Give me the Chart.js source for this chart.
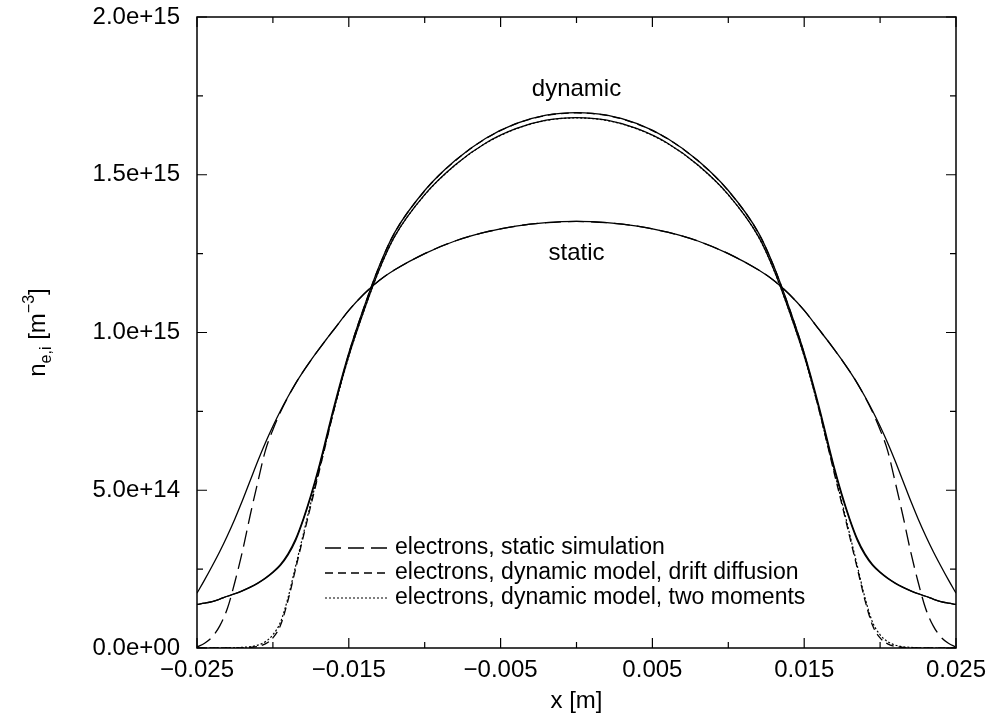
<!DOCTYPE html>
<html>
<head>
<meta charset="utf-8">
<style>
  html, body { margin: 0; padding: 0; background: #fff; }
</style>
<script src="https://cdn.jsdelivr.net/npm/chart.js@4.4.0/dist/chart.umd.min.js"></script>
</head>
<body>
<canvas id="plot" width="993" height="724"></canvas>
<script>
// x positions [m]
const xVals = [
  -0.025, -0.0245, -0.024, -0.0235, -0.023, -0.0225, -0.022, -0.0215, -0.021, -0.0205,
  -0.020, -0.0195, -0.019, -0.0185, -0.018, -0.0175, -0.017, -0.0165, -0.016, -0.015,
  -0.014, -0.013, -0.012, -0.010, -0.008, -0.006, -0.004, -0.002, 0,
  0.002, 0.004, 0.006, 0.008, 0.010, 0.012, 0.013, 0.014, 0.015, 0.016,
  0.0165, 0.017, 0.0175, 0.018, 0.0185, 0.019, 0.0195, 0.020, 0.0205, 0.021,
  0.0215, 0.022, 0.0225, 0.023, 0.0235, 0.024, 0.0245, 0.025
];

// ions, static simulation (solid)
const ionStatic = [
  1.74e14, 2.16e14, 2.60e14, 3.06e14, 3.56e14, 4.10e14, 4.68e14, 5.30e14, 5.92e14, 6.50e14,
  7.03e14, 7.52e14, 7.97e14, 8.39e14, 8.77e14, 9.12e14, 9.45e14, 9.77e14, 1.008e15, 1.070e15,
  1.122e15, 1.165e15, 1.198e15, 1.250e15, 1.290e15, 1.318e15, 1.337e15, 1.348e15, 1.352e15,
  1.348e15, 1.337e15, 1.318e15, 1.290e15, 1.250e15, 1.198e15, 1.165e15, 1.122e15, 1.070e15, 1.008e15,
  9.77e14, 9.45e14, 9.12e14, 8.77e14, 8.39e14, 7.97e14, 7.52e14, 7.03e14, 6.50e14, 5.92e14,
  5.30e14, 4.68e14, 4.10e14, 3.56e14, 3.06e14, 2.60e14, 2.16e14, 1.74e14
];

// electrons, static simulation (long dash)
const elecStatic = [
  3e12, 1.5e13, 3.5e13, 7.0e13, 1.25e14, 2.10e14, 3.08e14, 4.20e14, 5.25e14, 6.25e14,
  6.92e14, 7.48e14, 7.96e14, 8.39e14, 8.77e14, 9.12e14, 9.45e14, 9.77e14, 1.008e15, 1.070e15,
  1.122e15, 1.165e15, 1.198e15, 1.250e15, 1.290e15, 1.318e15, 1.337e15, 1.348e15, 1.352e15,
  1.348e15, 1.337e15, 1.318e15, 1.290e15, 1.250e15, 1.198e15, 1.165e15, 1.122e15, 1.070e15, 1.008e15,
  9.77e14, 9.45e14, 9.12e14, 8.77e14, 8.39e14, 7.96e14, 7.48e14, 6.92e14, 6.25e14, 5.25e14,
  4.20e14, 3.08e14, 2.10e14, 1.25e14, 7.0e13, 3.5e13, 1.5e13, 3e12
];

// ions, dynamic model, drift diffusion (solid)
const ionDynDD = [
  1.38e14, 1.42e14, 1.47e14, 1.55e14, 1.64e14, 1.72e14, 1.82e14, 1.93e14, 2.06e14, 2.22e14,
  2.41e14, 2.65e14, 2.99e14, 3.46e14, 4.10e14, 4.85e14, 5.70e14, 6.65e14, 7.62e14, 9.35e14,
  1.080e15, 1.210e15, 1.315e15, 1.450e15, 1.545e15, 1.615e15, 1.662e15, 1.689e15, 1.697e15,
  1.689e15, 1.662e15, 1.615e15, 1.545e15, 1.450e15, 1.315e15, 1.210e15, 1.080e15, 9.35e14, 7.62e14,
  6.65e14, 5.70e14, 4.85e14, 4.10e14, 3.46e14, 2.99e14, 2.65e14, 2.41e14, 2.22e14, 2.06e14,
  1.93e14, 1.82e14, 1.72e14, 1.64e14, 1.55e14, 1.47e14, 1.42e14, 1.38e14
];

// ions, dynamic model, two moments (solid)
const ionDynTM = [
  1.38e14, 1.42e14, 1.47e14, 1.55e14, 1.64e14, 1.72e14, 1.81e14, 1.92e14, 2.05e14, 2.20e14,
  2.39e14, 2.62e14, 2.95e14, 3.41e14, 4.05e14, 4.79e14, 5.63e14, 6.57e14, 7.54e14, 9.26e14,
  1.070e15, 1.199e15, 1.303e15, 1.437e15, 1.531e15, 1.600e15, 1.646e15, 1.673e15, 1.681e15,
  1.673e15, 1.646e15, 1.600e15, 1.531e15, 1.437e15, 1.303e15, 1.199e15, 1.070e15, 9.26e14, 7.54e14,
  6.57e14, 5.63e14, 4.79e14, 4.05e14, 3.41e14, 2.95e14, 2.62e14, 2.39e14, 2.20e14, 2.05e14,
  1.92e14, 1.81e14, 1.72e14, 1.64e14, 1.55e14, 1.47e14, 1.42e14, 1.38e14
];

// electrons, dynamic model, drift diffusion (short dash)
const elecDynDD = [
  0, 0, 0, 0, 0, 0, 5e11, 2e12, 5e12, 1.3e13,
  3.2e13, 7.2e13, 1.52e14, 2.52e14, 3.52e14, 4.52e14, 5.50e14, 6.50e14, 7.50e14, 9.33e14,
  1.079e15, 1.209e15, 1.314e15, 1.449e15, 1.544e15, 1.614e15, 1.661e15, 1.688e15, 1.696e15,
  1.688e15, 1.661e15, 1.614e15, 1.544e15, 1.449e15, 1.314e15, 1.209e15, 1.079e15, 9.33e14, 7.50e14,
  6.50e14, 5.50e14, 4.52e14, 3.52e14, 2.52e14, 1.52e14, 7.2e13, 3.2e13, 1.3e13, 5e12,
  2e12, 5e11, 0, 0, 0, 0, 0, 0
];

// electrons, dynamic model, two moments (dotted)
const elecDynTM = [
  0, 0, 0, 2e11, 5e11, 1e12, 2e12, 4e12, 9e12, 2.0e13,
  4.2e13, 8.2e13, 1.60e14, 2.60e14, 3.60e14, 4.60e14, 5.55e14, 6.52e14, 7.50e14, 9.24e14,
  1.069e15, 1.198e15, 1.302e15, 1.436e15, 1.530e15, 1.599e15, 1.645e15, 1.672e15, 1.680e15,
  1.672e15, 1.645e15, 1.599e15, 1.530e15, 1.436e15, 1.302e15, 1.198e15, 1.069e15, 9.24e14, 7.50e14,
  6.52e14, 5.55e14, 4.60e14, 3.60e14, 2.60e14, 1.60e14, 8.2e13, 4.2e13, 2.0e13, 9e12,
  4e12, 2e12, 1e12, 5e11, 2e11, 0, 0, 0
];

const xTickValues = [-0.025, -0.015, -0.005, 0.005, 0.015, 0.025];
const xMinorValues = [-0.02, -0.01, 0, 0.01, 0.02];
const yTickValues = [0, 5e14, 1e15, 1.5e15, 2e15];
const yMinorValues = [2.5e14, 7.5e14, 1.25e15, 1.75e15];

const FONT = '"Liberation Sans", Arial, Helvetica, sans-serif';

function pts(ys) {
  return xVals.map((x, i) => ({ x: x, y: ys[i] }));
}

function fmtX(v) {
  return v.toFixed(3).replace('-', '\u2212');
}

function fmtY(v) {
  let s = Number(v).toExponential(1);
  return s.replace(/e([+-])(\d)$/, 'e$10$2');
}

const solid = [];
const longDash = [16, 7];
const shortDash = [8, 5];
const dotted = [2, 2];

const datasets = [
  { label: 'ions static', data: pts(ionStatic), borderDash: solid, borderWidth: 1.3 },
  { label: 'electrons, static simulation', data: pts(elecStatic), borderDash: longDash, borderWidth: 1.3 },
  { label: 'ions dynamic dd', data: pts(ionDynDD), borderDash: solid, borderWidth: 1.3 },
  { label: 'ions dynamic tm', data: pts(ionDynTM), borderDash: solid, borderWidth: 1.3 },
  { label: 'electrons, dynamic model, drift diffusion', data: pts(elecDynDD), borderDash: shortDash, borderWidth: 1.3 },
  { label: 'electrons, dynamic model, two moments', data: pts(elecDynTM), borderDash: dotted, borderWidth: 1.2 }
].map(d => Object.assign(d, {
  borderColor: '#000',
  backgroundColor: '#000',
  showLine: true,
  pointRadius: 0,
  fill: false,
  cubicInterpolationMode: 'monotone'
}));

const legendItems = [
  { text: 'electrons, static simulation', dash: longDash, width: 1.3 },
  { text: 'electrons, dynamic model, drift diffusion', dash: shortDash, width: 1.3 },
  { text: 'electrons, dynamic model, two moments', dash: dotted, width: 1.2 }
];

// frame, inward ticks, legend and labels
const decor = {
  id: 'decor',
  afterDraw(chart) {
    const { ctx, chartArea: a, scales: { x, y } } = chart;
    ctx.save();
    ctx.strokeStyle = '#000';
    ctx.lineWidth = 1.5;
    ctx.strokeRect(a.left, a.top, a.right - a.left, a.bottom - a.top);

    ctx.lineWidth = 1.2;
    ctx.beginPath();
    const xt = (v, len) => {
      const p = x.getPixelForValue(v);
      ctx.moveTo(p, a.bottom); ctx.lineTo(p, a.bottom - len);
      ctx.moveTo(p, a.top); ctx.lineTo(p, a.top + len);
    };
    const yt = (v, len) => {
      const p = y.getPixelForValue(v);
      ctx.moveTo(a.left, p); ctx.lineTo(a.left + len, p);
      ctx.moveTo(a.right, p); ctx.lineTo(a.right - len, p);
    };
    xTickValues.forEach(v => xt(v, 10));
    xMinorValues.forEach(v => xt(v, 6));
    yTickValues.forEach(v => yt(v, 10));
    yMinorValues.forEach(v => yt(v, 6));
    ctx.stroke();

    // legend
    ctx.fillStyle = '#000';
    ctx.font = '23px ' + FONT;
    ctx.textBaseline = 'middle';
    ctx.textAlign = 'left';
    legendItems.forEach((it, i) => {
      const yy = 548 + i * 25;
      ctx.beginPath();
      ctx.setLineDash(it.dash);
      ctx.lineWidth = it.width;
      ctx.moveTo(325, yy); ctx.lineTo(387, yy);
      ctx.stroke();
      ctx.setLineDash([]);
      ctx.fillText(it.text, 395, yy);
    });

    // curve annotations
    ctx.font = '24px ' + FONT;
    ctx.textAlign = 'center';
    ctx.fillText('dynamic', x.getPixelForValue(0), y.getPixelForValue(1.77e15));
    ctx.fillText('static', x.getPixelForValue(0), y.getPixelForValue(1.25e15));

    // x axis title
    ctx.textBaseline = 'alphabetic';
    ctx.fillText('x [m]', (a.left + a.right) / 2, 708);

    // y axis title: n_{e,i} [m^-3]
    ctx.translate(45, (a.top + a.bottom) / 2);
    ctx.rotate(-Math.PI / 2);
    const big = '24px ' + FONT, small = '16px ' + FONT;
    const parts = [
      { t: 'n', f: big, dy: 0 },
      { t: 'e,i', f: small, dy: 6 },
      { t: ' [m', f: big, dy: 0 },
      { t: '\u22123', f: small, dy: -11 },
      { t: ']', f: big, dy: 0 }
    ];
    let w = 0;
    parts.forEach(p => { ctx.font = p.f; p.w = ctx.measureText(p.t).width; w += p.w; });
    let cx = -w / 2;
    ctx.textAlign = 'left';
    parts.forEach(p => { ctx.font = p.f; ctx.fillText(p.t, cx, p.dy); cx += p.w; });
    ctx.restore();
  }
};

new Chart(document.getElementById('plot').getContext('2d'), {
  type: 'scatter',
  data: { datasets: datasets },
  options: {
    responsive: false,
    animation: false,
    layout: { padding: { top: 17, right: 37, left: 0, bottom: 0 } },
    plugins: { legend: { display: false }, tooltip: { enabled: false } },
    scales: {
      x: {
        type: 'linear', min: -0.025, max: 0.025,
        grid: { display: false, drawTicks: false },
        border: { display: false },
        afterBuildTicks: s => { s.ticks = xTickValues.map(v => ({ value: v })); },
        afterFit: s => { s.height = 76; s.paddingLeft = 0; s.paddingRight = 0; },
        ticks: {
          color: '#000', padding: 8, maxRotation: 0, autoSkip: false,
          font: { family: FONT, size: 24 },
          callback: v => fmtX(v)
        }
      },
      y: {
        type: 'linear', min: 0, max: 2e15,
        grid: { display: false, drawTicks: false },
        border: { display: false },
        afterBuildTicks: s => { s.ticks = yTickValues.map(v => ({ value: v })); },
        afterFit: s => { s.width = 197; s.paddingTop = 0; s.paddingBottom = 0; },
        ticks: {
          color: '#000', padding: 17, autoSkip: false,
          font: { family: FONT, size: 24 },
          callback: v => fmtY(v)
        }
      }
    }
  },
  plugins: [decor]
});
</script>
</body>
</html>
